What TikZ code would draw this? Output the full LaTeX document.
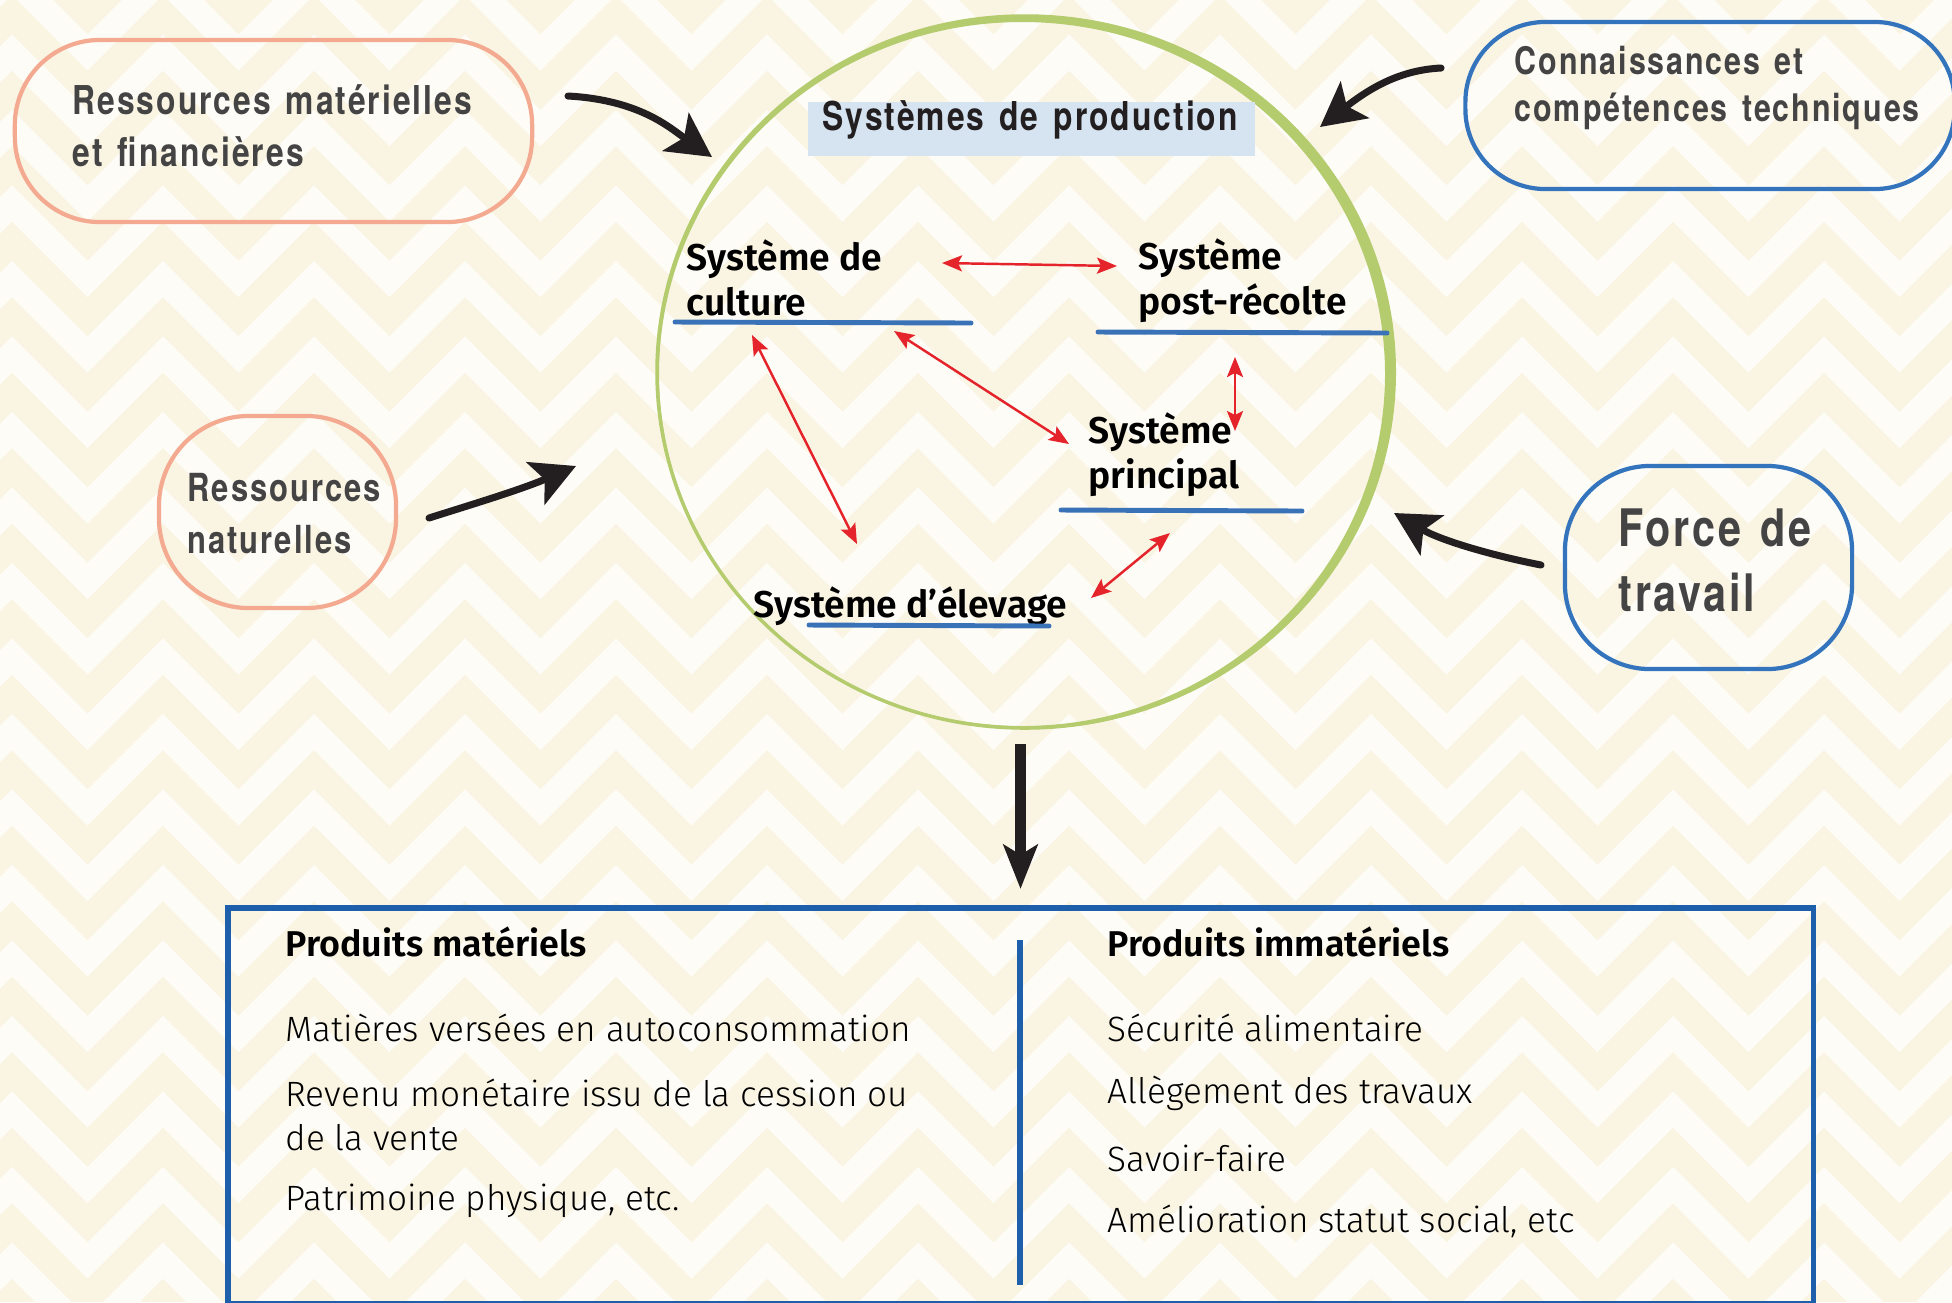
\documentclass[tikz,border=0pt]{standalone}
\usepackage{fontspec}
\usetikzlibrary{arrows.meta,positioning,calc,shapes.geometric}
\newfontfamily\handfont{TeX Gyre Heros}[FakeStretch=0.8,LetterSpace=5,WordSpace=1.4]
\newfontfamily\sysfont{Fira Sans SemiBold}
\newfontfamily\headfont{Fira Sans SemiBold}
\newfontfamily\bodyfont{Fira Sans Light}
\definecolor{bgcream}{HTML}{FAF4E3}
\definecolor{bgwhite}{HTML}{FDFCF7}
\definecolor{pinkline}{HTML}{F3AA90}
\definecolor{blueline}{HTML}{3474BC}
\definecolor{ulblue}{HTML}{3A72B8}
\definecolor{titleblue}{HTML}{D6E3F0}
\definecolor{sysred}{HTML}{E4232B}
\definecolor{brushblack}{HTML}{231F20}
\definecolor{handgray}{HTML}{454444}
\definecolor{greenring}{HTML}{B4CB6E}
\definecolor{boxblue}{HTML}{1D5FAA}
\tikzset{
  zigzag/.style={draw=bgwhite, line width=0.255cm, line join=miter},
  pill/.style={draw, line width=1.2pt, inner sep=0pt},
  handlbl/.style={font=\handfont\bfseries\fontsize{11.3}{14.8}\selectfont, text=handgray,
    align=left, inner sep=0pt, anchor=west},
  syslbl/.style={font=\sysfont\fontsize{10.6}{12.8}\selectfont, text=black,
    align=left, inner sep=0pt, anchor=west},
  headlbl/.style={font=\headfont\fontsize{10.2}{11}\selectfont, text=black, inner sep=0pt, anchor=west},
  bodylbl/.style={font=\bodyfont\fontsize{10}{12.5}\selectfont, text=black, align=left,
    inner sep=0pt, anchor=west},
  uline/.style={draw=ulblue, line width=1.4pt, line cap=round},
  redarr/.style={draw=sysred, line width=0.7pt,
    {Stealth[length=0.2cm,width=0.16cm,inset=0.04cm]}-{Stealth[length=0.2cm,width=0.16cm,inset=0.04cm]}},
  brush/.style={draw=brushblack, line width=2pt, line cap=round,
    -{Stealth[length=0.44cm,width=0.46cm,inset=0.1cm]}},
}
\begin{document}
\begin{tikzpicture}[x=0.01cm, y=-0.01cm]
\useasboundingbox (0,0) rectangle (1952,1302);
% background chevrons
\fill[bgcream] (0,0) rectangle (1952,1302);
\foreach \r in {0,...,19}
  \draw[zigzag] (-139,-98.5+\r*75.5) \foreach \c in {0,...,14} { -- ++(75.5,75.5) -- ++(75.5,-75.5) };

% production systems ring
\fill[greenring, even odd rule] (1027,372) ellipse [x radius=369, y radius=357]
  (1022,374) ellipse [x radius=363, y radius=352];
\draw[greenring, line width=1pt] (1025,372) ellipse [x radius=368, y radius=356];
\node (prodsys) at (1025,372) [ellipse, minimum width=7.36cm, minimum height=7.14cm, inner sep=0pt] {};
\fill[titleblue] (808,102) rectangle (1255,156);
\node (title) at (822,120) [handlbl, text=brushblack] {Systèmes de production};

% resources
\node (resmat) at (273.5,131) [pill, draw=pinkline, minimum width=5.17cm, minimum height=1.82cm, rounded corners=0.85cm] {};
\node (resmatlbl) at (72,126) [handlbl] {Ressources matérielles\\et financières};
\node (resnat) at (277.5,512) [pill, draw=pinkline, minimum width=2.37cm, minimum height=1.92cm, rounded corners=0.9cm] {};
\node (resnatlbl) at (187,514) [handlbl, font=\handfont\bfseries\fontsize{11}{14.8}\selectfont] {Ressources\\naturelles};
\node (skills) at (1710,105.5) [pill, draw=blueline, minimum width=4.89cm, minimum height=1.67cm, rounded corners=0.8cm] {};
\node (skillslbl) at (1514,88) [handlbl, font=\handfont\bfseries\fontsize{10.8}{13.4}\selectfont] {Connaissances et\\compétences techniques};
\node (labour) at (1708.5,567.5) [pill, draw=blueline, minimum width=2.87cm, minimum height=2.03cm, rounded corners=0.85cm] {};
\node (labourlbl) at (1618,560) [handlbl, font=\handfont\bfseries\fontsize{14.7}{18.5}\selectfont] {Force de\\travail};

% brush arrows into the ring
\coordinate (tailA) at (568,96);   \coordinate (tipA) at (712,157);
\coordinate (tailB) at (1441,68);  \coordinate (tipB) at (1320,127);
\coordinate (tailC) at (429,518);  \coordinate (tipC) at (576,466);
\coordinate (tailD) at (1541,565); \coordinate (tipD) at (1394,513);
\draw[brush] (tailA) .. controls (640,100) and (670,128) .. (tipA);
\draw[brush] (tailB) .. controls (1400,70) and (1370,88) .. (tipB);
\draw[brush] (tailC) .. controls (470,505) and (520,490) .. (tipC);
\draw[brush] (tailD) .. controls (1490,555) and (1440,540) .. (tipD);

% sub-systems
\node (culture) at (686,278) [syslbl] {Système de\\culture};
\node (postrec) at (1138,281) [syslbl] {Système\\post-récolte};
\node (principal) at (1088,455) [syslbl] {Système\\principal};
\node (elevage) at (753,606) [syslbl] {Système d’élevage};
\draw[uline] (675,322) -- (971,323);
\draw[uline] (1098,332) -- (1387,333);
\draw[uline] (1061,510) -- (1302,511);
\draw[uline] (809,625) -- (1049,626);

\coordinate (culR) at (942,263);  \coordinate (postL) at (1117,266);
\coordinate (culB) at (752,335);  \coordinate (eleT) at (857,544);
\coordinate (culBR) at (894,331); \coordinate (priL) at (1069,444);
\coordinate (postB) at (1235,357); \coordinate (priT) at (1235,431);
\coordinate (priB) at (1170,533); \coordinate (eleR) at (1091,598);
\draw[redarr] (culR) -- (postL);
\draw[redarr] (culB) -- (eleT);
\draw[redarr] (culBR) -- (priL);
\draw[redarr] (postB) -- (priT);
\draw[redarr] (priB) -- (eleR);

% products
\node (products) at (1020.5,1106) [draw=boxblue, line width=1.7pt, minimum width=15.85cm, minimum height=3.96cm, inner sep=0pt] {};
\draw[brushblack, line width=3.1pt, -{Stealth[length=0.44cm,width=0.34cm,inset=0.1cm]},
  shorten <=0.14cm, shorten >=0.16cm] (products.north |- prodsys.south) -- (products.north);
\draw[boxblue, line width=1.7pt] (1020,940) -- (1020,1285);

\node (mathead) at (285,942) [headlbl] {Produits matériels};
\node (mat1) at (285,1028) [bodylbl] {Matières versées en autoconsommation};
\node (mat2) at (285,1115) [bodylbl] {Revenu monétaire issu de la cession ou\\de la vente};
\node (mat3) at (285,1201) [bodylbl] {Patrimoine physique, etc.};
\node (imhead) at (1107,942) [headlbl] {Produits immatériels};
\node (im1) at (1107,1028) [bodylbl] {Sécurité alimentaire};
\node (im2) at (1107,1093) [bodylbl] {Allègement des travaux};
\node (im3) at (1107,1158) [bodylbl] {Savoir-faire};
\node (im4) at (1107,1221) [bodylbl] {Amélioration statut social, etc};
\end{tikzpicture}
\end{document}
